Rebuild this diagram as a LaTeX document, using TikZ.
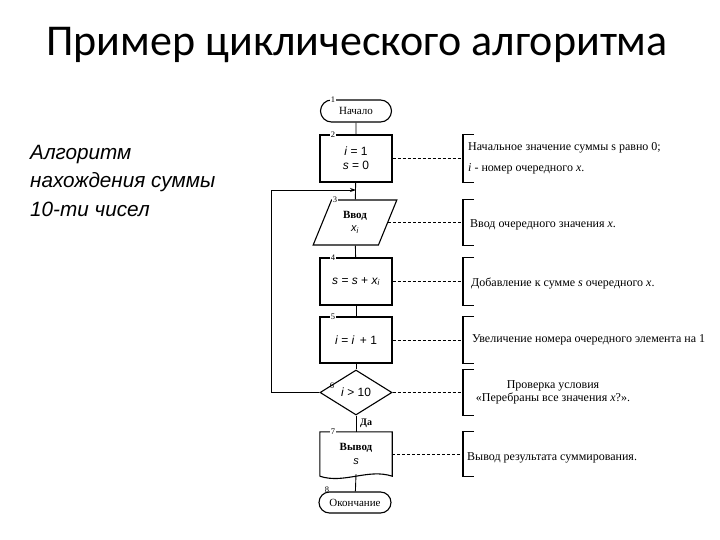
\documentclass[tikz,border=0pt]{standalone}
\usepackage{fontspec}
\setmainfont{Liberation Serif}
\setsansfont{Liberation Sans}
\newfontfamily\titlefont{Carlito}
\usetikzlibrary{arrows.meta,positioning,shapes.geometric,shapes.misc}

\tikzset{
  blk/.style={draw, line width=1.1pt, minimum width=72pt, minimum height=47pt, inner sep=1pt, align=center, font=\sffamily\fontsize{12}{14}\selectfont},
  term/.style={draw, line width=1.1pt, rounded rectangle, minimum width=73pt, minimum height=22pt, inner sep=1pt, font=\fontsize{11}{12}\selectfont},
  inout/.style={draw, line width=1.1pt, trapezium, trapezium left angle=67, trapezium right angle=113, trapezium stretches=true, minimum width=84pt, minimum height=45pt, inner sep=1pt, align=center, font=\fontsize{11}{13}\selectfont},
  decis/.style={draw, line width=1.1pt, diamond, aspect=1.6, minimum width=72pt, minimum height=45pt, inner sep=0pt, font=\sffamily\fontsize{12}{13}\selectfont},
  numlbl/.style={fill=white, inner sep=0.6pt, font=\fontsize{8.5}{9}\selectfont},
  link/.style={line width=0.9pt},
  dashlink/.style={line width=0.9pt, dash pattern=on 3pt off 2pt},
  brk/.style={line width=1.1pt},
  note/.style={anchor=west, inner sep=0pt, font=\fontsize{12}{13}\selectfont}
}

\begin{document}
\begin{tikzpicture}[x=1pt, y=-1pt]
  \useasboundingbox (0,0) rectangle (720,540);

  \node[font=\titlefont\fontsize{44}{48}\selectfont] (title) at (357,45) {Пример циклического алгоритма};
  \node[anchor=north west, align=left, inner sep=0pt, font=\sffamily\itshape\fontsize{20.7}{28.5}\selectfont] (task) at (30,145) {Алгоритм\\нахождения суммы\\10-ти чисел};

  % flowchart
  \node[term] (start) at (356,111) {Начало};
  \node[blk] (init) at (356,158.5) {\textit{i} = 1\\\textit{s} = 0};
  \node[inout] (inp) at (355,222.5) {\textbf{Ввод}\\{\sffamily\itshape x\textsubscript{i}}};
  \node[blk] (add) at (356,281.5) {\textit{s} = \textit{s} + \textit{x\textsubscript{i}}};
  \node[blk, minimum height=46pt] (incr) at (356,340) {\textit{i} = \textit{i} \,+ 1};
  \node[decis] (cond) at (356,392.5) {\textit{i} > 10};
  \node[minimum width=72pt, minimum height=44pt, inner sep=1pt, align=center, font=\fontsize{11}{14}\selectfont] (outp) at (356,454) {\textbf{Вывод}\\{\sffamily\itshape s}};
  \draw[line width=1.1pt] (outp.south west) -- (outp.north west) -- (outp.north east) -- (outp.south east)
    .. controls +(-24,-8) and +(24,8) .. (outp.south west);
  \node[term, minimum width=74pt, minimum height=21pt] (fin) at (355,502.5) {Окончание};

  % numbers
  \node[numlbl] (k1) at ([xshift=-23pt]start.north) {1};
  \node[numlbl] (k2) at ([xshift=-23pt]init.north) {2};
  \node[numlbl] (k3) at ([xshift=-20pt]inp.north) {3};
  \node[numlbl] (k4) at ([xshift=-23pt]add.north) {4};
  \node[numlbl] (k5) at ([xshift=-23pt]incr.north) {5};
  \node[numlbl, fill=none] (k6) at ([xshift=-24pt, yshift=7pt]cond.center) {6};
  \node[numlbl] (k7) at ([xshift=-23pt]outp.north) {7};
  \node[numlbl, fill=none] (k8) at ([xshift=-28pt, yshift=2pt]fin.north) {8};

  \draw[link] (start) -- (init);
  \draw[link] (init) -- (inp);
  \draw[link] (inp) -- (add);
  \draw[link] (add) -- (incr);
  \draw[link] (incr) -- (cond);
  \draw[link] (cond) -- (outp);
  \draw[link] (outp.south) ++(0,-2) -- (fin);
  \node[anchor=west, inner sep=0pt, font=\bfseries\fontsize{10}{11}\selectfont] (yes) at (360,423) {Да};

  % loop back
  \coordinate (join) at (356,190);
  \draw[link, -{Stealth[length=6pt, width=4pt]}] (cond.west) -- ++(-48,0) |- (join);

  % comments
  \coordinate (brx) at (463,0);
  \foreach \b in {init,inp,add,incr,cond,outp} {
    \draw[dashlink] (\b.east) -- (\b.east -| brx);
    \draw[brk] (\b.north -| brx) ++(11,0) -- ++(-11,0) -- (\b.south -| brx) -- ++(11,0);
  }
  \node[note] (c2) at (468,148) {Начальное значение суммы s равно 0;};
  \node[note] (c2b) at (468,169) {\textit{i} - номер очередного \textit{x}.};
  \node[note] (c3) at (470,225) {Ввод очередного значения \textit{x}.};
  \node[note] (c4) at (471,283) {Добавление к сумме \textit{s} очередного \textit{x}.};
  \node[note] (c5) at (472,340) {Увеличение номера очередного элемента на 1};
  \node[note, anchor=center, align=center] (c6) at (553,392) {Проверка условия\\«Перебраны все значения \textit{x}?».};
  \node[note] (c7) at (467,458) {Вывод результата суммирования.};
\end{tikzpicture}
\end{document}
